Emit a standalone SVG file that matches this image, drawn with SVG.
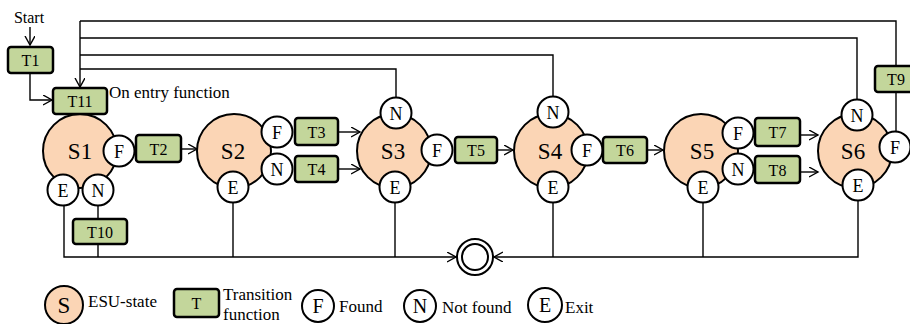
<svg xmlns="http://www.w3.org/2000/svg" width="910" height="324" viewBox="0 0 910 324" font-family="'Liberation Serif', 'Times New Roman', Times, serif">
<style>
text{font-family:'Liberation Serif','Times New Roman',Times,serif;fill:#000;text-anchor:middle}
.st{fill:#FBD5B5;stroke:#000;stroke-width:2}
.sc{fill:#fff;stroke:#000;stroke-width:2}
.bx{fill:#C3D69B;stroke:#000;stroke-width:2.5}
.ln{fill:none;stroke:#000;stroke-width:1.4}
.sl{font-size:23px}
.cl{font-size:18px}
.tl{font-size:16px}
.lg{font-size:17px;text-anchor:start}
</style>
<defs>
<marker id="ar" markerUnits="userSpaceOnUse" markerWidth="12" markerHeight="12" refX="9" refY="5" orient="auto">
<path d="M0,0 L9,5 L0,10" fill="none" stroke="#000" stroke-width="1.4"/>
</marker>
</defs>
<g id="connectors">
<path class="ln" d="M30,27 V45" marker-end="url(#ar)"/>
<path class="ln" d="M30,73 V100 H52" marker-end="url(#ar)"/>
<path class="ln" d="M80,21 V87" marker-end="url(#ar)"/>
<path class="ln" d="M80,21 H896 V66"/>
<path class="ln" d="M896,92 V132"/>
<path class="ln" d="M80,38 H857 V100"/>
<path class="ln" d="M80,55 H553 V97"/>
<path class="ln" d="M80,69 H396 V98"/>
<path class="ln" d="M181,149 H197" marker-end="url(#ar)"/>
<path class="ln" d="M338,132 H360" marker-end="url(#ar)"/>
<path class="ln" d="M338,169 H360" marker-end="url(#ar)"/>
<path class="ln" d="M497,150 H513" marker-end="url(#ar)"/>
<path class="ln" d="M647,150 H663" marker-end="url(#ar)"/>
<path class="ln" d="M800,135 H818" marker-end="url(#ar)"/>
<path class="ln" d="M800,172 H818" marker-end="url(#ar)"/>
<path class="ln" d="M64,205 V257 H456" marker-end="url(#ar)"/>
<path class="ln" d="M98,205 V219 M98,244 V257"/>
<path class="ln" d="M233,202 V257"/>
<path class="ln" d="M395,202 V257"/>
<path class="ln" d="M858,200 V257 H494" marker-end="url(#ar)"/>
<path class="ln" d="M553,202 V257"/>
<path class="ln" d="M703,202 V257"/>
</g>
<g id="start"><text x="29" y="23" font-size="16">Start</text></g>
<g id="T1"><rect class="bx" x="8" y="47" width="45" height="26" rx="3"/><text class="tl" x="30.5" y="66">T1</text></g>
<g id="S1">
<circle class="st" cx="80" cy="151" r="37"/><text class="sl" x="80" y="159">S1</text>
<circle class="sc" cx="119" cy="151" r="15.5"/><text class="cl" x="119" y="157.5">F</text>
<circle class="sc" cx="63" cy="190" r="15.5"/><text class="cl" x="63" y="196.5">E</text>
<circle class="sc" cx="98" cy="190" r="15.5"/><text class="cl" x="98" y="196.5">N</text>
</g>
<g id="T11"><rect class="bx" x="53" y="88" width="54" height="26" rx="3"/><text class="tl" x="80" y="107">T11</text>
<text x="109" y="98" font-size="17" text-anchor="start" style="text-anchor:start">On entry function</text></g>
<g id="T2"><rect class="bx" x="136" y="135" width="45" height="27" rx="3"/><text class="tl" x="158.5" y="154.5">T2</text></g>
<g id="S2">
<circle class="st" cx="234" cy="151" r="37"/><text class="sl" x="233" y="159">S2</text>
<circle class="sc" cx="277" cy="132" r="15.5"/><text class="cl" x="277" y="138.5">F</text>
<circle class="sc" cx="277" cy="169" r="15.5"/><text class="cl" x="277" y="175.5">N</text>
<circle class="sc" cx="233" cy="187" r="15.5"/><text class="cl" x="233" y="193.5">E</text>
</g>
<g id="T3"><rect class="bx" x="295" y="118" width="43" height="27" rx="3"/><text class="tl" x="316.5" y="137.5">T3</text></g>
<g id="T4"><rect class="bx" x="295" y="156" width="43" height="26" rx="3"/><text class="tl" x="316.5" y="175">T4</text></g>
<g id="S3">
<circle class="st" cx="394" cy="151" r="37"/><text class="sl" x="393" y="159">S3</text>
<circle class="sc" cx="396" cy="113" r="15.5"/><text class="cl" x="396" y="119.5">N</text>
<circle class="sc" cx="437" cy="150" r="15.5"/><text class="cl" x="437" y="156.5">F</text>
<circle class="sc" cx="395" cy="187" r="15.5"/><text class="cl" x="395" y="193.5">E</text>
</g>
<g id="T5"><rect class="bx" x="455" y="137" width="42" height="26" rx="3"/><text class="tl" x="476" y="156">T5</text></g>
<g id="S4">
<circle class="st" cx="551" cy="151" r="37"/><text class="sl" x="550" y="159">S4</text>
<circle class="sc" cx="553" cy="112" r="15.5"/><text class="cl" x="553" y="118.5">N</text>
<circle class="sc" cx="587" cy="150" r="15.5"/><text class="cl" x="587" y="156.5">F</text>
<circle class="sc" cx="553" cy="187" r="15.5"/><text class="cl" x="553" y="193.5">E</text>
</g>
<g id="T6"><rect class="bx" x="603" y="137" width="44" height="26" rx="3"/><text class="tl" x="625" y="156">T6</text></g>
<g id="S5">
<circle class="st" cx="701" cy="151" r="37"/><text class="sl" x="702" y="159">S5</text>
<circle class="sc" cx="738" cy="133" r="15.5"/><text class="cl" x="738" y="139.5">F</text>
<circle class="sc" cx="738" cy="169" r="15.5"/><text class="cl" x="738" y="175.5">N</text>
<circle class="sc" cx="703" cy="187" r="15.5"/><text class="cl" x="703" y="193.5">E</text>
</g>
<g id="T7"><rect class="bx" x="755" y="118" width="45" height="28" rx="3"/><text class="tl" x="777.5" y="138">T7</text></g>
<g id="T8"><rect class="bx" x="755" y="156" width="45" height="27" rx="3"/><text class="tl" x="777.5" y="175.5">T8</text></g>
<g id="S6">
<circle class="st" cx="855" cy="151" r="37"/><text class="sl" x="853" y="159">S6</text>
<circle class="sc" cx="857" cy="115" r="15.5"/><text class="cl" x="857" y="121.5">N</text>
<circle class="sc" cx="895" cy="147" r="15.5"/><text class="cl" x="895" y="153.5">F</text>
<circle class="sc" cx="858" cy="185" r="15.5"/><text class="cl" x="858" y="191.5">E</text>
</g>
<g id="T9"><rect class="bx" x="875" y="66" width="42" height="26" rx="3"/><text class="tl" x="896" y="85">T9</text></g>
<g id="T10"><rect class="bx" x="73" y="219" width="54" height="25" rx="3"/><text class="tl" x="100" y="237.5">T10</text></g>
<g id="final">
<circle cx="475" cy="257" r="18" fill="#fff" stroke="#000" stroke-width="2"/>
<circle cx="475" cy="257" r="13" fill="none" stroke="#000" stroke-width="2"/>
</g>
<g id="legend">
<circle class="st" cx="64" cy="305" r="19"/><text x="64" y="313" font-size="23">S</text>
<text class="lg" x="88" y="307">ESU-state</text>
<rect class="bx" x="174" y="289" width="45" height="28" rx="3"/><text class="tl" x="196.5" y="309">T</text>
<text class="lg" x="223" y="300">Transition</text>
<text class="lg" x="223" y="320">function</text>
<circle class="sc" cx="318" cy="306" r="16"/><text x="318" y="313" font-size="20">F</text>
<text class="lg" x="339" y="312">Found</text>
<circle class="sc" cx="420" cy="306" r="16"/><text x="420" y="313" font-size="20">N</text>
<text class="lg" x="442" y="313">Not found</text>
<circle class="sc" cx="545" cy="305" r="17"/><text x="545" y="312" font-size="20">E</text>
<text class="lg" x="565" y="313">Exit</text>
</g>
</svg>
